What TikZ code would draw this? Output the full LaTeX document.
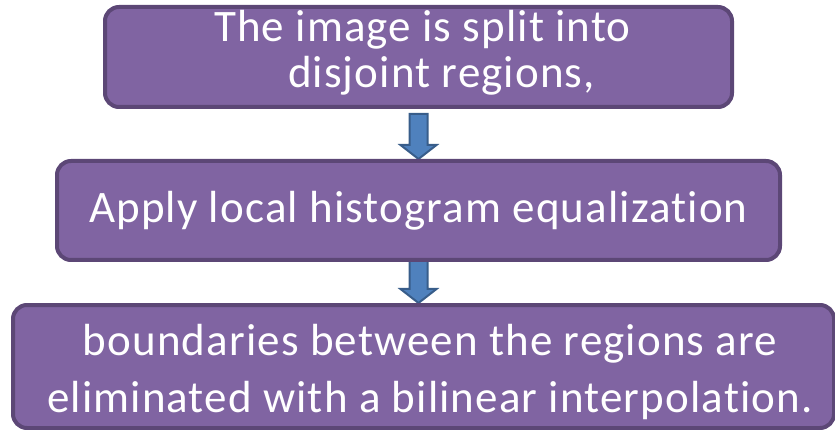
\documentclass[tikz,border=0pt]{standalone}
\usepackage{fontspec}
\setmainfont{Carlito}[Ligatures={NoCommon},LetterSpace=2.5]
\usetikzlibrary{calc,backgrounds}
\definecolor{boxfill}{HTML}{8064A2}
\definecolor{boxline}{HTML}{5C4776}
\definecolor{arrfill}{HTML}{4F81BD}
\definecolor{arrline}{HTML}{385D8A}
\begin{document}
\begin{tikzpicture}[x=1pt,y=-1pt,
  box/.style={draw=boxline,fill=boxfill,line width=4pt,rounded corners=14pt,inner sep=0pt},
  txt/.style={text=white,font=\fontsize{45}{54}\selectfont,anchor=base,inner sep=0pt},
  blockarrow/.style={draw=arrline,fill=arrfill,line width=2pt}]
\useasboundingbox (0,0) rectangle (835,430);
% boxes
\node[box,minimum width=627pt,minimum height=100pt] (b1) at (418.5,57) {};
\node[box,minimum width=723pt,minimum height=99pt] (b2) at (418.5,210.5) {};
\node[box,minimum width=821pt,minimum height=123pt] (b3) at (423.5,366.5) {};
% texts
\node[txt] (t1a) at (422.5,42) {The image is split into};
\node[txt] (t1b) at (441.5,88) {disjoint regions,};
\node[txt] (t2) at (418.5,223) {Apply local histogram equalization};
\node[txt] (t3a) at (430,355) {boundaries between the regions are};
\node[txt] (t3b) at (430,412) {eliminated with a bilinear interpolation.};
% arrows
\coordinate (a1t) at ($(b1.south)+(0,5)$);
\coordinate (a1h) at (b2.north);
\coordinate (a2t) at ($(b2.south)+(0,-3)$);
\coordinate (a2h) at ($(b3.north)+(-5,0)$);
\begin{pgfonlayer}{background}
\draw[blockarrow] ($(a1t)+(-9,0)$) -- ($(a1t)+(9,0)$) -- ($(a1h)+(9,-14)$) -- ($(a1h)+(18,-14)$) -- (a1h) -- ($(a1h)+(-18,-14)$) -- ($(a1h)+(-9,-14)$) -- cycle;
\draw[blockarrow] ($(a2t)+(-9,0)$) -- ($(a2t)+(9,0)$) -- ($(a2h)+(9,-14)$) -- ($(a2h)+(18,-14)$) -- (a2h) -- ($(a2h)+(-18,-14)$) -- ($(a2h)+(-9,-14)$) -- cycle;
\end{pgfonlayer}
\end{tikzpicture}
\end{document}
